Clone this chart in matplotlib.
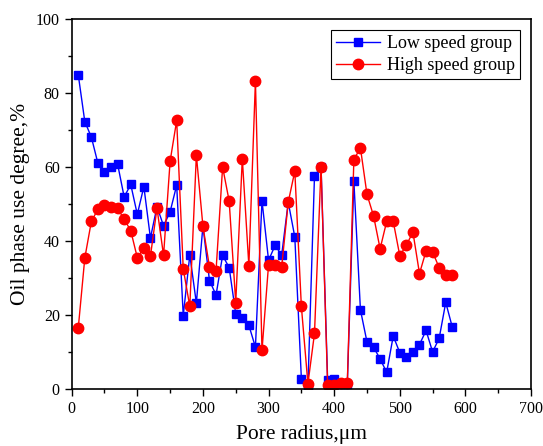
import matplotlib
matplotlib.use('Agg')
import matplotlib.pyplot as plt
from matplotlib.ticker import MultipleLocator

plt.rcParams['font.family'] = ['Liberation Serif', 'DejaVu Serif']
plt.rcParams['mathtext.fontset'] = 'stix'

# Pore radius (um)
radius = list(range(10, 590, 10))

# Oil phase use degree (%) - low speed group
low_speed = [85.0, 72.3, 68.1, 61.0, 58.6, 60.0, 60.8, 51.9, 55.3, 47.2,
             54.7, 40.8, 49.3, 44.1, 47.9, 55.1, 19.8, 36.2, 23.2, 44.1,
             29.3, 25.4, 36.1, 32.8, 20.3, 19.2, 17.2, 11.3, 50.9, 34.8,
             38.8, 36.2, 50.5, 41.1, 2.8, 0.8, 57.6, 60.0, 2.5, 2.6,
             1.2, 1.2, 56.2, 21.4, 12.7, 11.3, 8.1, 4.5, 14.3, 9.8,
             8.7, 9.9, 12.0, 15.8, 10.0, 13.7, 23.4, 16.7]

# Oil phase use degree (%) - high speed group
high_speed = [16.4, 35.4, 45.3, 48.6, 49.8, 49.3, 48.8, 45.9, 42.8, 35.5,
              38.1, 35.9, 48.9, 36.1, 61.6, 72.6, 32.5, 22.3, 63.2, 44.0,
              33.0, 32.0, 60.0, 50.8, 23.3, 62.3, 33.3, 83.3, 10.4, 33.6,
              33.6, 33.0, 50.5, 58.9, 22.3, 1.4, 15.0, 60.1, 1.1, 1.1,
              1.5, 1.5, 62.0, 65.2, 52.6, 46.8, 37.9, 45.3, 45.3, 36.0,
              38.9, 42.4, 31.2, 37.3, 37.0, 32.8, 30.8, 30.8]

fig = plt.figure(figsize=(5.43, 4.46), dpi=100)
ax = fig.add_axes([0.132, 0.128, 0.846, 0.829])

ax.plot(radius, low_speed, color='blue', lw=1, marker='s', ms=6,
        label='Low speed group')
ax.plot(radius, high_speed, color='red', lw=1, marker='o', ms=7.5,
        label='High speed group')

ax.set_xlim(0, 700)
ax.set_ylim(0, 100)
ax.xaxis.set_major_locator(MultipleLocator(100))
ax.xaxis.set_minor_locator(MultipleLocator(50))
ax.yaxis.set_major_locator(MultipleLocator(20))
ax.yaxis.set_minor_locator(MultipleLocator(10))
ax.tick_params(which='major', direction='out', length=5, width=1, labelsize=11.5)
ax.tick_params(which='minor', direction='out', length=3, width=1)
for s in ax.spines.values():
    s.set_linewidth(1.2)

ax.set_xlabel('Pore radius,μm', fontsize=15.5, labelpad=6)
ax.set_ylabel('Oil phase use degree,%', fontsize=15.5, labelpad=4)

leg = ax.legend(loc='upper right', fontsize=13, fancybox=False, edgecolor='black',
                framealpha=1, borderaxespad=0.6, handlelength=2.4,
                handletextpad=0.4, labelspacing=0.25, borderpad=0.3)
leg.get_frame().set_linewidth(0.8)

fig.savefig('out.png', dpi=100)
